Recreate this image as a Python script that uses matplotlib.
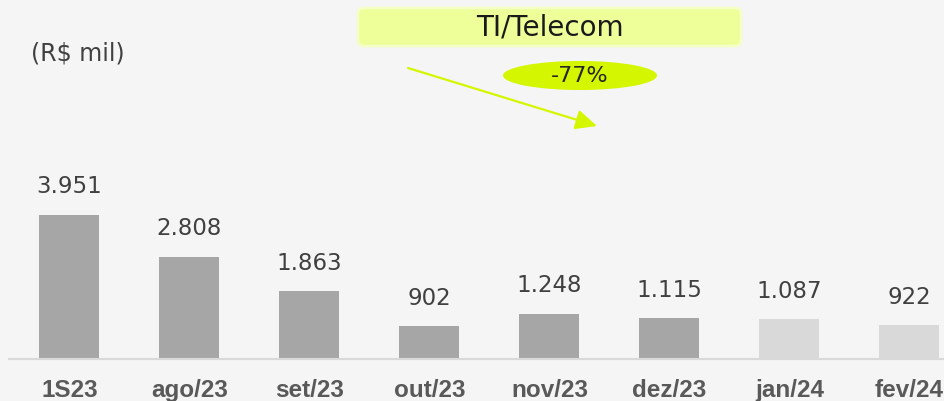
import matplotlib
matplotlib.use("Agg")
import matplotlib.pyplot as plt
from matplotlib.patches import FancyBboxPatch, Ellipse, FancyArrowPatch

categories = ["1S23", "ago/23", "set/23", "out/23", "nov/23", "dez/23", "jan/24", "fev/24"]
values = [3951, 2808, 1863, 902, 1248, 1115, 1087, 922]
value_labels = ["3.951", "2.808", "1.863", "902", "1.248", "1.115", "1.087", "922"]
highlight = [False, False, False, False, False, False, True, True]
title_text = "TI/Telecom"
unit_text = "(R$ mil)"
change_text = "-77%"

W, H = 945, 401
bg = "#F5F5F5"
fig = plt.figure(figsize=(W / 100, H / 100), dpi=100, facecolor=bg)

ax = fig.add_axes([9 / W, (H - 359) / H, (W - 9) / W, 359 / H])
ax.set_facecolor(bg)
x = list(range(len(categories)))
colors = ["#D9D9D9" if h else "#A6A6A6" for h in highlight]
ax.bar(x, values, width=0.5, color=colors, zorder=2)
ax.set_xlim(-0.504, 7.296)
ax.set_ylim(0, 359 / (144 / 3951))
for s in ["top", "right", "left"]:
    ax.spines[s].set_visible(False)
ax.spines["bottom"].set_color("#D9D9D9")
ax.spines["bottom"].set_linewidth(1.5)
ax.set_yticks([])
ax.set_xticks([])

for xi, v, lab in zip(x, values, value_labels):
    ax.annotate(lab, xy=(xi, v), xytext=(0, 15.5), textcoords="offset points",
                ha="center", va="baseline", fontsize=16.5, color="#404040",
                family="DejaVu Sans")
for xi, c in zip(x, categories):
    ax.text(xi, -38 / 359, c, transform=ax.get_xaxis_transform(), ha="center",
            va="baseline", fontsize=17.5, fontweight="bold", color="#595959",
            family="Liberation Sans", clip_on=False)

ov = fig.add_axes([0, 0, 1, 1])
ov.set_xlim(0, W)
ov.set_ylim(H, 0)
ov.axis("off")
ov.patch.set_alpha(0)

ov.text(31, 54, unit_text, ha="left", va="center", fontsize=17, color="#404040",
        family="DejaVu Sans")

box = FancyBboxPatch((358, 8), 383, 38, boxstyle="round,pad=0,rounding_size=6",
                     facecolor="#EEFF99", edgecolor="#F3FFC4", linewidth=2)
ov.add_patch(box)
ov.text(550, 28, title_text, ha="center", va="center", fontsize=20, color="#1A1A1A",
        family="DejaVu Sans")

ell = Ellipse((580, 75.5), 154, 29, facecolor="#D4F700", edgecolor="none")
ov.add_patch(ell)
ov.text(580, 76, change_text, ha="center", va="center", fontsize=16, color="#262626",
        family="DejaVu Sans")

arr = FancyArrowPatch((408, 68), (597, 126),
                      arrowstyle="-|>,head_length=0.65,head_width=0.3",
                      mutation_scale=20, color="#D4F700", linewidth=1.6,
                      shrinkA=0, shrinkB=0)
ov.add_patch(arr)

fig.savefig("out.png", dpi=100, facecolor=bg)
